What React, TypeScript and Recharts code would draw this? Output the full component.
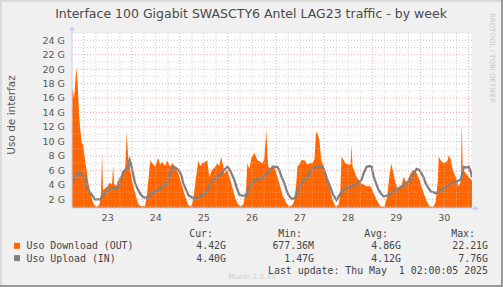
import { ComposedChart, Area, Line, XAxis, YAxis, ReferenceLine, CartesianGrid } from "recharts";

// hours since Apr 23 00:00 -> Gbit/s
const downloadSeries: [number, number][] = [
  [-5.8, 17.5], [-4.8, 16], [-3.6, 20.2], [-3.0, 18], [-2.3, 14], [-1.8, 12], [-1.0, 9.9], [-0.3, 9.5],
  [0.7, 7.5], [1.5, 6], [2.2, 4.5], [3.2, 3.2], [4.2, 2.0], [5.2, 1.2], [6.7, 0.95], [8.0, 1.4],
  [8.7, 3], [9.2, 8.4], [9.7, 3.3], [10.7, 3.5], [11.7, 3.8], [13.2, 4.3], [14.2, 4], [14.7, 6.8],
  [15.2, 4.2], [16.2, 3.8], [17.2, 4.6], [18.2, 5.1], [19.7, 5.6], [20.7, 6], [21.5, 11.3], [22.2, 7.9],
  [23.2, 6.2], [24.2, 4.6], [25.2, 3.4], [26.2, 2.4], [27.2, 1.4], [28.7, 1.0], [30.7, 1.1], [31.7, 3],
  [32.5, 5.2], [33.2, 7.4], [34.7, 6.8], [35.7, 6.5], [37.2, 7.7], [38.2, 6.8], [39.2, 7.2], [40.7, 6.6],
  [41.7, 7.4], [43.2, 6.5], [44.2, 7.0], [45.7, 6.5], [47.2, 5.6], [49.2, 3.8], [50.7, 2.4], [52.2, 1.2],
  [53.7, 1.0], [54.7, 2], [55.7, 4.2], [57.2, 7.4], [58.2, 6.6], [59.2, 7.0], [60.7, 7.2],
  [61.7, 7.4], [62.7, 5.1], [64.2, 6.1], [65.7, 6.5], [66.7, 7.0], [67.7, 6.6], [68.7, 7.9], [69.7, 6.5],
  [70.2, 5.6], [71.7, 6.1], [72.7, 5.2], [73.7, 4.2], [75.2, 2.6], [76.7, 1.45], [78.2, 1.0], [79.7, 1.3],
  [81.0, 3.3], [81.7, 7.0], [82.7, 6.2], [83.7, 7.7], [85.2, 8.4], [86.7, 7.4], [88.2, 7.2], [89.2, 7.0],
  [90.2, 7.6], [91.2, 11.6], [91.7, 8], [92.2, 6.5], [93.7, 6.1], [94.7, 6.8], [96.2, 5.6], [97.7, 4.2],
  [99.2, 2.6], [101.2, 1.45], [102.7, 1.0], [104.2, 1.2], [105.2, 1.9], [106.2, 4.5], [106.7, 6.5], [107.7, 6.9],
  [108.7, 7.4], [110.2, 7.4], [111.7, 6.8], [112.7, 7.0], [114.2, 7.0], [115.2, 7.5], [116.0, 11.4], [116.7, 11.0],
  [117.7, 10.2], [118.5, 7.5], [119.2, 7.0], [121.2, 5.6], [122.7, 3.8], [124.2, 1.9], [125.7, 1.0], [127.2, 1.2],
  [128.0, 2.5], [128.7, 7.9], [130.7, 7.0], [132.2, 6.8], [133.2, 6.8], [133.7, 9.6], [134.2, 6.5], [136.2, 5.1],
  [138.7, 4.2], [141.2, 3.8], [143.2, 3.8], [144.7, 2.9], [146.2, 1.9], [148.2, 1.0], [150.2, 1.0], [151.5, 2.5],
  [152.7, 5.5], [153.5, 7.0], [154.2, 6.1], [155.7, 4.2], [157.2, 3.3], [158.7, 4.0], [159.7, 5.1], [161.2, 4.2],
  [162.2, 5.0], [163.2, 5.6], [164.7, 6.1], [166.2, 5.6], [167.2, 5.0], [168.2, 4.2], [169.7, 2.85], [171.2, 1.7],
  [172.7, 1.0], [174.7, 1.0], [175.7, 1.7], [176.7, 4.5], [177.2, 7.9], [178.7, 7.2], [180.2, 7.0], [181.7, 7.4],
  [182.2, 8.1], [183.2, 7.5], [184.2, 6.0], [185.7, 5.1], [187.2, 3.8], [188.2, 4.5], [188.7, 12.5], [189.2, 6.1],
  [190.7, 5.6], [192.2, 5.1], [193.8, 4.6],
];

const uploadSeries: [number, number][] = [
  [-5.8, 4.4], [-4.3, 5.0], [-2.8, 5.6], [-1.8, 5.7], [-0.8, 5.5], [0.2, 5.1], [1.2, 4.2], [2.2, 3.3],
  [4.2, 2.6], [5.7, 2.0], [8.2, 2.0], [9.2, 2.3], [10.2, 2.8], [11.7, 3.3], [13.2, 3.4], [14.7, 3.6],
  [16.7, 3.5], [18.2, 4.2], [19.7, 5.8], [21.2, 6.2], [22.2, 6.4], [23.0, 7.4], [23.7, 6.8], [24.2, 6.1],
  [25.7, 4.2], [27.2, 3.3], [28.2, 2.8], [29.7, 2.3], [32.2, 2.2], [34.2, 2.85], [35.7, 3.1], [37.2, 3.3],
  [39.2, 3.7], [40.7, 4.0], [42.2, 4.6], [43.2, 5.6], [44.7, 6.5], [45.7, 6.4], [47.2, 6.1], [48.7, 5.4],
  [49.7, 4.2], [51.2, 3.3], [52.2, 2.6], [53.7, 2.3], [54.7, 2.2], [56.7, 2.2], [58.2, 2.4], [60.7, 2.8],
  [62.2, 3.5], [63.7, 4.45], [65.2, 4.8], [66.7, 5.15], [68.7, 5.6], [70.2, 6.1], [71.7, 6.5], [72.7, 6.2],
  [73.7, 5.6], [75.2, 4.7], [76.2, 3.8], [77.7, 2.6], [79.2, 2.5], [81.2, 2.5], [82.7, 3.8], [85.2, 4.7],
  [87.2, 4.8], [88.7, 4.9], [90.2, 5.2], [91.7, 5.6], [93.2, 6.0], [94.2, 6.5], [96.7, 6.5], [97.7, 6.0],
  [98.7, 5.15], [100.2, 4.2], [101.2, 3.3], [102.2, 2.6], [103.7, 2.1], [105.2, 2.1], [106.7, 3.0], [107.7, 3.8],
  [110.2, 4.7], [111.7, 5.1], [113.7, 6.1], [115.2, 6.4], [116.7, 6.5], [119.2, 6.5], [120.2, 5.8], [121.7, 4.7],
  [123.2, 3.6], [124.2, 2.85], [125.2, 2.3], [126.2, 1.9], [127.7, 2.6], [129.2, 3.2], [130.7, 3.55], [133.2, 3.8],
  [135.7, 4.0], [137.2, 4.3], [138.7, 4.7], [139.7, 5.6], [141.2, 6.5], [142.7, 6.6], [143.7, 6.5], [144.7, 5.15],
  [146.2, 4.0], [147.2, 3.3], [148.7, 2.7], [149.7, 2.4], [152.2, 2.6], [154.2, 3.0], [155.7, 3.3], [157.2, 3.5],
  [158.7, 3.8], [160.7, 4.2], [162.2, 4.45], [163.7, 5.0], [164.7, 5.6], [166.2, 6.2], [167.2, 6.1], [168.2, 5.8],
  [169.7, 5.0], [170.7, 4.2], [172.2, 3.5], [173.2, 3.1], [175.7, 2.85], [177.2, 3.0], [178.7, 3.3], [180.7, 3.7],
  [182.2, 4.0], [184.2, 4.3], [185.7, 4.45], [187.2, 4.6], [188.2, 4.7], [189.2, 5.8], [189.7, 6.5], [191.2, 6.4],
  [192.2, 6.5], [193.2, 5.8], [193.8, 5.0],
];

const dayLabels = ["23", "24", "25", "26", "27", "28", "29", "30"];
const dayLabelHours = [12, 36, 60, 84, 108, 132, 156, 180];
const midnightHours = [0, 24, 48, 72, 96, 120, 144, 168, 192];
const gbTicks = [2, 4, 6, 8, 10, 12, 14, 16, 18, 20, 22, 24];
const gbMinor = [1, 3, 5, 7, 9, 11, 13, 15, 17, 19, 21, 23, 25];

const legendRows = [
  { name: "Uso Download (OUT)", color: "#ff6600", cur: "4.42G", min: "677.36M", avg: "4.86G", max: "22.21G" },
  { name: "Uso Upload (IN)", color: "#808080", cur: "4.40G", min: "1.47G", avg: "4.12G", max: "7.76G" },
];

const sixHourMarks: number[] = [];
for (let h = 6; h < 194; h += 6) if (h % 24 !== 0) sixHourMarks.push(h);

// merge both series on one time axis
const hoursAll = Array.from(new Set([...downloadSeries.map((p) => p[0]), ...uploadSeries.map((p) => p[0])])).sort((a, b) => a - b);
const dlMap = new Map(downloadSeries);
const ulMap = new Map(uploadSeries);
const chartData = hoursAll.map((h) => ({ h, dl: dlMap.get(h) ?? null, ul: ulMap.get(h) ?? null }));

const sans = "'DejaVu Sans', sans-serif";
const mono = "'DejaVu Sans Mono', monospace";
const txt = "#555555";
const minorGrid = { stroke: "#c4c4c4", strokeDasharray: "1 2", strokeOpacity: 0.75 };
const majorGrid = { stroke: "#f09090", strokeDasharray: "1 2", strokeOpacity: 0.8 };

export default function App() {
  return (
    <div style={{ position: "absolute", left: 0, top: 0, width: 503, height: 287, background: "#f0f0f0", overflow: "hidden" }}>
      <ComposedChart width={503} height={287} data={chartData} margin={{ top: 33, right: 31, bottom: 49, left: 0 }}>
        <CartesianGrid fill="#ffffff" stroke="none" />
        <XAxis
          dataKey="h"
          type="number"
          domain={[-5.8, 193.8]}
          allowDataOverflow
          ticks={dayLabelHours}
          interval={0}
          tickFormatter={(v: number) => dayLabels[dayLabelHours.indexOf(v)] ?? ""}
          tick={{ fontSize: 9.5, fill: txt, fontFamily: sans }}
          tickLine={false}
          tickSize={5}
          tickMargin={1}
          axisLine={{ stroke: "#c8cdea" }}
          height={30}
        />
        <YAxis
          type="number"
          domain={[0.8, 25]}
          allowDataOverflow
          ticks={gbTicks}
          interval={0}
          tickFormatter={(v: number) => `${v} G`}
          tick={{ fontSize: 9.5, fill: txt, fontFamily: sans }}
          tickLine={false}
          tickSize={5}
          tickMargin={2}
          axisLine={{ stroke: "#c8cdea" }}
          width={72}
        />
        <Area
          dataKey="dl"
          type="linear"
          stroke="none"
          fill="#ff6600"
          fillOpacity={1}
          baseValue={0}
          connectNulls
          isAnimationActive={false}
        />
        <Line
          dataKey="ul"
          type="linear"
          stroke="#808080"
          strokeWidth={2.3}
          dot={false}
          connectNulls
          isAnimationActive={false}
        />
        {gbMinor.map((v) => (
          <ReferenceLine key={"ym" + v} y={v} {...minorGrid} />
        ))}
        {sixHourMarks.map((h) => (
          <ReferenceLine key={"xm" + h} x={h} {...minorGrid} />
        ))}
        {gbTicks.map((v) => (
          <ReferenceLine key={"yM" + v} y={v} {...majorGrid} />
        ))}
        {midnightHours.map((h) => (
          <ReferenceLine key={"xM" + h} x={h} {...majorGrid} />
        ))}
      </ComposedChart>
      <svg width={503} height={287} style={{ position: "absolute", left: 0, top: 0, pointerEvents: "none" }}>
        <rect x={0} y={0} width={503} height={2} fill="#dadada" />
        <rect x={0} y={0} width={2} height={287} fill="#dadada" />
        <rect x={0} y={285} width={503} height={2} fill="#999999" />
        <rect x={501} y={0} width={2} height={287} fill="#999999" />
        <text x={251} y={18} textAnchor="middle" fontFamily={sans} fontSize={12.5} fill="#4a4a4a">
          Interface 100 Gigabit SWASCTY6 Antel LAG23 traffic - by week
        </text>
        <text transform="translate(15,115) rotate(-90)" textAnchor="middle" fontFamily={sans} fontSize={10.5} fill={txt}>
          Uso de interfaz
        </text>
        <text transform="translate(489.5,13) rotate(90)" fontFamily={sans} fontSize={7} fill="#c8c8c8">
          RRDTOOL / TOBI OETIKER
        </text>
        {/* axis arrows */}
        <line x1={72} y1={33} x2={72} y2={29} stroke="#c8cdea" />
        <polygon points="69.5,31 74.5,31 72,26" fill="#c8cdea" />
        <line x1={472} y1={208.5} x2={476} y2={208.5} stroke="#c8cdea" />
        <polygon points="474,206 474,211 479,208.5" fill="#c8cdea" />
        <g fontFamily={mono} fontSize={9.9} fill="#444444">
          <text x={213} y={237} textAnchor="end">Cur:</text>
          <text x={302} y={237} textAnchor="end">Min:</text>
          <text x={388} y={237} textAnchor="end">Avg:</text>
          <text x={475} y={237} textAnchor="end">Max:</text>
          {legendRows.map((r, i) => {
            const y = 249.3 + i * 12.3;
            return (
              <g key={r.name}>
                <rect x={14} y={y - 6.5} width={6} height={6} fill={r.color} />
                <text x={26.5} y={y}>{r.name}</text>
                <text x={226} y={y} textAnchor="end">{r.cur}</text>
                <text x={314} y={y} textAnchor="end">{r.min}</text>
                <text x={401} y={y} textAnchor="end">{r.avg}</text>
                <text x={488} y={y} textAnchor="end">{r.max}</text>
              </g>
            );
          })}
          <text x={488} y={273.5} textAnchor="end" xmlSpace="preserve">{"Last update: Thu May \u00a01 02:00:05 2025"}</text>
        </g>
        <text x={252} y={279} textAnchor="middle" fontFamily={sans} fontSize={7.2} fill="#cccccc">
          Munin 2.0.33
        </text>
      </svg>
    </div>
  );
}
